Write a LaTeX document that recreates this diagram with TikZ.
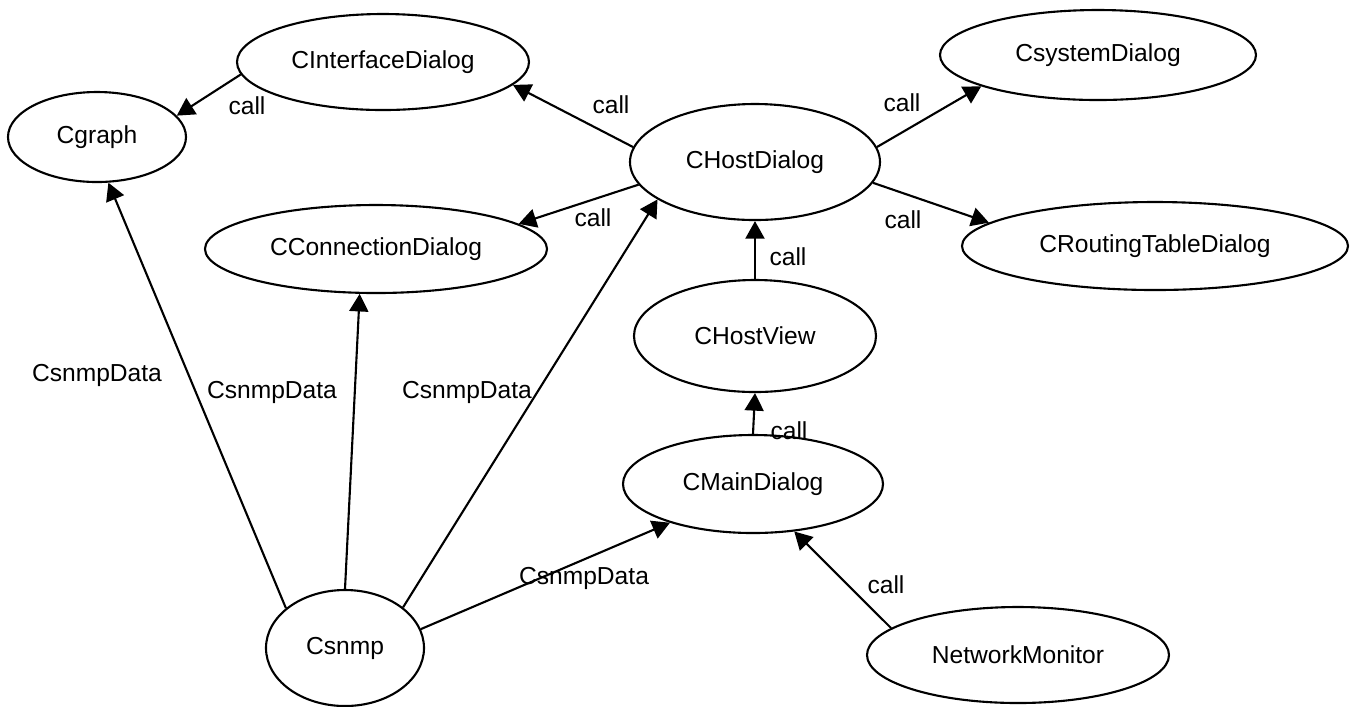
\documentclass[tikz,border=0pt]{standalone}
\usepackage{fontspec}
\setmainfont{Liberation Sans}
\usetikzlibrary{shapes.geometric, arrows.meta}

\begin{document}
\begin{tikzpicture}[%
      cls/.style={ellipse, draw, line width=0.6pt, inner sep=0pt, font=\fontsize{7}{8.4}\selectfont},
      line/.style={draw, line width=0.6pt, -{Triangle[length=5pt, width=5.4pt]}},
      lbl/.style={font=\fontsize{7}{8.4}\selectfont, inner sep=0pt}
      ]
    \useasboundingbox (0, 0) rectangle (13.53, -7.06);

    \node [cls, minimum width=1.78cm, minimum height=0.90cm] (cgraph) at (0.97, -1.37) {Cgraph};
    \node [cls, minimum width=2.92cm, minimum height=0.96cm] (iface) at (3.83, -0.62) {CInterfaceDialog};
    \node [cls, minimum width=3.16cm, minimum height=0.90cm] (sysdlg) at (10.98, -0.55) {CsystemDialog};
    \node [cls, minimum width=2.50cm, minimum height=1.16cm] (hostdlg) at (7.55, -1.62) {CHostDialog};
    \node [cls, minimum width=3.42cm, minimum height=0.88cm] (conn) at (3.76, -2.49) {CConnectionDialog};
    \node [cls, minimum width=3.86cm, minimum height=0.88cm] (routing) at (11.55, -2.46) {CRoutingTableDialog};
    \node [cls, minimum width=2.42cm, minimum height=1.12cm] (hostview) at (7.55, -3.36) {CHostView};
    \node [cls, minimum width=2.60cm, minimum height=0.98cm] (maindlg) at (7.53, -4.84) {CMainDialog};
    \node [cls, minimum width=1.58cm, minimum height=1.16cm] (csnmp) at (3.45, -6.48) {Csnmp};
    \node [cls, minimum width=3.02cm, minimum height=0.96cm] (netmon) at (10.18, -6.55) {NetworkMonitor};

    % calls between the dialogs
    \path [line] (iface.185) -- (cgraph.15);
    \path [line] (hostdlg.173) -- (iface.350);
    \path [line] (hostdlg.7) -- (sysdlg.195);
    \path [line] (hostdlg.191) -- (conn.10);
    \path [line] (hostdlg.350) -- (routing.172);
    \path [line] (hostview.north) -- (hostdlg.south);
    \path [line] (maindlg.north) -- (hostview.south);
    \path [line] (netmon.168) -- (maindlg.311);

    \node [lbl] (c1) at (2.47, -1.06) {call};
    \node [lbl] (c2) at (6.11, -1.05) {call};
    \node [lbl] (c3) at (9.02, -1.03) {call};
    \node [lbl] (c4) at (5.93, -2.18) {call};
    \node [lbl] (c5) at (9.03, -2.20) {call};
    \node [lbl] (c6) at (7.88, -2.57) {call};
    \node [lbl] (c7) at (7.89, -4.31) {call};
    \node [lbl] (c8) at (8.86, -5.85) {call};

    % data passed from Csnmp
    \path [line] (csnmp.146) -- (cgraph.284);
    \path [line] (csnmp.90) -- (conn.250);
    \path [line] (csnmp.35) -- (hostdlg.201);
    \path [line] (csnmp.14) -- (maindlg.205);

    \node [lbl] (d1) at (0.97, -3.75) {CsnmpData};
    \node [lbl] (d2) at (2.72, -3.92) {CsnmpData};
    \node [lbl] (d3) at (4.67, -3.92) {CsnmpData};
    \node [lbl] (d4) at (5.84, -5.78) {CsnmpData};
  \end{tikzpicture}
\end{document}
